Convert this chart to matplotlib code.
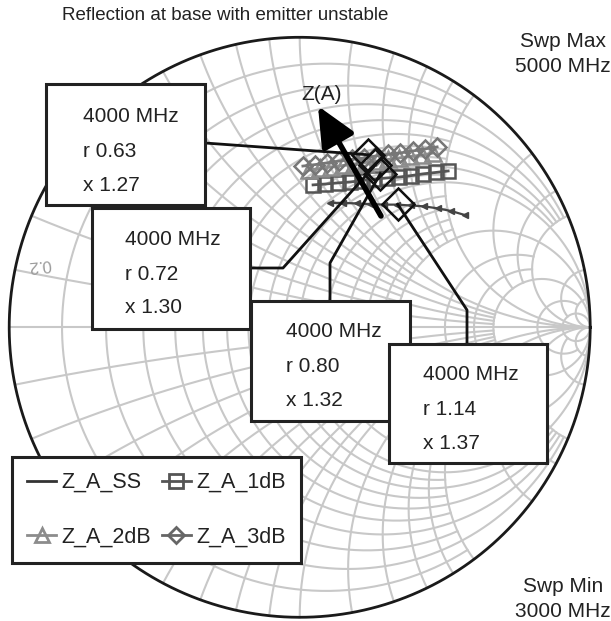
import numpy as np
import matplotlib
matplotlib.use("Agg")
import matplotlib.pyplot as plt
from matplotlib.lines import Line2D
from matplotlib.patches import Rectangle

plt.rcParams["font.family"] = ["Liberation Sans", "DejaVu Sans"]

# reflection coefficient of each sweep (3000-5000 MHz)
ss_re = [0.104, 0.149, 0.197, 0.242, 0.290, 0.335, 0.383, 0.428, 0.476, 0.521, 0.569]
ss_im = [0.429, 0.429, 0.427, 0.425, 0.423, 0.423, 0.420, 0.417, 0.410, 0.401, 0.387]
db1_re = [0.046, 0.087, 0.132, 0.173, 0.214, 0.256, 0.301, 0.342, 0.383, 0.424, 0.469, 0.511]
db1_im = [0.491, 0.494, 0.498, 0.501, 0.506, 0.511, 0.515, 0.518, 0.523, 0.529, 0.534, 0.539]
db2_re = [0.032, 0.070, 0.108, 0.149, 0.187, 0.225, 0.266, 0.304, 0.342, 0.380, 0.421, 0.459]
db2_im = [0.542, 0.548, 0.553, 0.558, 0.563, 0.568, 0.573, 0.579, 0.584, 0.589, 0.594, 0.601]
db3_re = [0.011, 0.053, 0.094, 0.135, 0.180, 0.221, 0.263, 0.304, 0.345, 0.390, 0.431, 0.473]
db3_im = [0.556, 0.561, 0.567, 0.573, 0.579, 0.584, 0.591, 0.596, 0.601, 0.608, 0.615, 0.622]

# markers at 4000 MHz (normalised impedance) - 3dB, 2dB, 1dB, SS
marker_freq = 4000
marker_r = [0.63, 0.72, 0.80, 1.14]
marker_x = [1.27, 1.30, 1.32, 1.37]

# smith grid: (value, extent of the other coordinate)
r_grid = [(0.1, 2), (0.2, 5), (0.3, 2), (0.4, 5), (0.5, 2), (0.6, 5), (0.7, 2),
          (0.8, 5), (0.9, 2), (1.0, 1e3), (1.2, 2), (1.4, 2), (1.6, 2), (1.8, 2),
          (2.0, 1e3), (3.0, 5), (4.0, 5), (5.0, 1e3), (10, 20), (20, 1e3)]
x_grid = r_grid

W, H = 611, 621
GRID = "#c8c8c8"


def z2g(z):
    return (z - 1) / (z + 1)


fig = plt.figure(figsize=(W / 100, H / 100), dpi=100)
ax = fig.add_axes([0, 0, 1, 1])
ax.set_xlim(-1.0317, 1.0716)
ax.set_ylim(-1.0128, 1.1286)
ax.axis("off")

for r, xm in r_grid:
    t = np.linspace(-np.arctan(xm), np.arctan(xm), 400)
    g = z2g(r + 1j * np.tan(t))
    ax.plot(g.real, g.imag, color=GRID, lw=1.5, zorder=1)
for xv, rm in x_grid:
    t = np.linspace(0, np.arctan(rm), 400)
    for s in (1, -1):
        g = z2g(np.tan(t) + 1j * s * xv)
        ax.plot(g.real, g.imag, color=GRID, lw=1.5, zorder=1)
ax.plot([-1, 1], [0, 0], color=GRID, lw=1.5, zorder=1)
th = np.linspace(0, 2 * np.pi, 500)
ax.plot(np.cos(th), np.sin(th), color="#1a1a1a", lw=2, zorder=2)

# traces
ax.plot(db1_re, db1_im, color="#555555", lw=2, marker="s", ms=10, mfc="none",
        mew=1.8, zorder=3)
ax.plot(db2_re, db2_im, color="#8c8c8c", lw=2, marker="^", ms=11, mfc="none",
        mew=1.8, zorder=4)
ax.plot(db3_re, db3_im, color="#777777", lw=2, marker="D", ms=9, mfc="none",
        mew=1.8, zorder=4)
ax.plot(ss_re, ss_im, color="#444444", lw=1.6, marker="<", ms=5, zorder=5)

zm = np.array(marker_r) + 1j * np.array(marker_x)
gm = z2g(zm)
ax.plot(gm.real, gm.imag, ls="none", marker="D", ms=16, mfc="none", mec="#111111",
        mew=1.8, zorder=6)

# overlay in pixel coordinates for annotations
ov = fig.add_axes([0, 0, 1, 1], zorder=5)
ov.set_xlim(0, W)
ov.set_ylim(H, 0)
ov.axis("off")
mpix = ov.transData.inverted().transform(ax.transData.transform(np.c_[gm.real, gm.imag]))

ov.text(225, 15, "Reflection at base with emitter unstable", fontsize=13.5,
        ha="center", va="center", color="#222222")
ov.text(563, 47, "Swp Max", fontsize=15, ha="center", va="baseline", color="#222222")
ov.text(563, 72, "5000 MHz", fontsize=15, ha="center", va="baseline", color="#222222")
ov.text(563, 592, "Swp Min", fontsize=15, ha="center", va="baseline", color="#222222")
ov.text(563, 617, "3000 MHz", fontsize=15, ha="center", va="baseline", color="#222222")
ov.text(39, 265, "0.2", fontsize=12, rotation=186, ha="center", va="center",
        color="#9a9a9a")

# Z(A) direction arrow
ov.annotate("", xy=(318, 106), xytext=(381, 216),
            arrowprops=dict(arrowstyle="-|>,head_length=1.2,head_width=0.55",
                            lw=4, color="black", mutation_scale=20,
                            shrinkA=0, shrinkB=0), zorder=7)
ov.text(322, 95, "Z(A)", fontsize=15, ha="center", va="center", color="#222222")

boxes = [(46, 84, 205, 205), (92, 208, 250, 329), (251, 301, 410, 421), (389, 344, 547, 463)]
text_x = [83, 125, 286, 423]
text_base = [(122, 157, 191), (245, 280, 313), (337, 372, 406), (380, 415, 449)]
leaders = [[(205, 143)], [(250, 268), (283, 268)], [(330, 301), (330, 263)],
           [(467, 344), (467, 310)]]

for i in range(4):
    pts = np.array(leaders[i] + [tuple(mpix[i])])
    ov.plot(pts[:, 0], pts[:, 1], color="#111111", lw=2, zorder=2)
    x0, y0, x1, y1 = boxes[i]
    ov.add_patch(Rectangle((x0, y0), x1 - x0, y1 - y0, fc="white", ec="#222222",
                           lw=2.2, zorder=3 + i))
    lines = [f"{marker_freq} MHz", f"r {marker_r[i]:.2f}", f"x {marker_x[i]:.2f}"]
    for s, yb in zip(lines, text_base[i]):
        ov.text(text_x[i], yb, s, fontsize=15, ha="left", va="baseline",
                color="#222222", zorder=3 + i)

# legend filled column by column: SS/2dB left, 1dB/3dB right
handles = [
    Line2D([], [], color="#333333", lw=2),
    Line2D([], [], color="#8c8c8c", lw=2, marker="^", ms=10, mfc="none", mew=2),
    Line2D([], [], color="#555555", lw=2, marker="s", ms=10, mfc="none", mew=2),
    Line2D([], [], color="#666666", lw=2, marker="D", ms=8, mfc="none", mew=2),
]
labels = ["Z_A_SS", "Z_A_2dB", "Z_A_1dB", "Z_A_3dB"]
leg = ov.legend(handles, labels, ncol=2, loc="upper left",
                bbox_to_anchor=(12 / W, 1 - 457 / H), bbox_transform=fig.transFigure,
                borderaxespad=0, fontsize=15.5, handlelength=1.35, handletextpad=0.25,
                columnspacing=0.5, labelspacing=1.55, borderpad=0.7,
                fancybox=False, framealpha=1, edgecolor="#222222")
leg.get_frame().set_linewidth(2.2)
leg.set_zorder(10)
for t in leg.get_texts():
    t.set_color("#222222")

fig.savefig("out.png", dpi=100)
